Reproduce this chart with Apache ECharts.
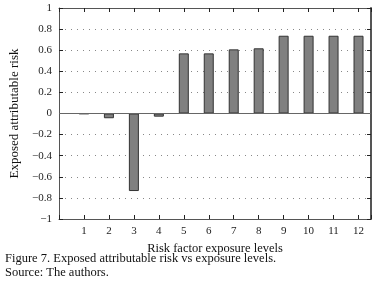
<!DOCTYPE html>
<html>
<head>
<meta charset="utf-8">
<script src="https://cdn.jsdelivr.net/npm/echarts@6/dist/echarts.min.js"></script>
<style>
  html, body { margin: 0; padding: 0; background: #fff; }
  #chart { width: 382px; height: 285px; }
</style>
</head>
<body>
<div id="chart"></div>
<script>
// exposure levels and exposed attributable risk
const levels = [1, 2, 3, 4, 5, 6, 7, 8, 9, 10, 11, 12]
const risk = [-0.004, -0.045, -0.735, -0.03, 0.57, 0.57, 0.608, 0.618, 0.737, 0.737, 0.737, 0.737]
const yTicks = [-1, -0.8, -0.6, -0.4, -0.2, 0, 0.2, 0.4, 0.6, 0.8, 1]

const font = 'Liberation Serif'
const frame = '#555'

const chart = echarts.init(document.getElementById('chart'))

const fmtY = v => {
  const r = Math.round(v * 10) / 10
  if (!yTicks.includes(r)) return ''
  return r < 0 ? '\u2212' + String(-r) : String(r)
}

chart.setOption({
  animation: false,
  backgroundColor: '#fff',
  textStyle: { fontFamily: font },
  grid: { left: 59, right: 11, top: 8, bottom: 66, show: false },
  xAxis: [
    {
      type: 'value', min: 0, max: 12.5, interval: 1,
      axisLine: { onZero: false, lineStyle: { color: frame, width: 1 } },
      axisTick: { inside: true, length: 4, lineStyle: { color: '#222' } },
      axisLabel: {
        color: '#222', fontSize: 11, fontFamily: font, margin: 7,
        formatter: v => levels.includes(v) ? String(v) : ''
      },
      splitLine: { show: false },
      name: 'Risk factor exposure levels',
      nameLocation: 'middle', nameGap: 22,
      nameTextStyle: { color: '#111', fontSize: 12.5, fontFamily: font }
    },
    {
      type: 'value', min: 0, max: 12.5, interval: 1, position: 'top',
      axisLine: { show: true, onZero: false, lineStyle: { color: frame, width: 1 } },
      axisTick: { inside: true, length: 4, lineStyle: { color: '#222' } },
      axisLabel: { show: false },
      splitLine: { show: false }
    }
  ],
  yAxis: [
    {
      type: 'value', min: -1, max: 1, interval: 0.2,
      axisLine: { show: true, onZero: false, lineStyle: { color: frame, width: 1 } },
      axisTick: { inside: true, length: 4, lineStyle: { color: '#222' } },
      axisLabel: { color: '#222', fontSize: 11, fontFamily: font, margin: 7, formatter: fmtY },
      splitLine: { show: true, lineStyle: { color: '#888', type: [1, 5], width: 1 } },
      name: 'Exposed attributable risk',
      nameLocation: 'middle', nameGap: 31, nameRotate: 90,
      nameTextStyle: { color: '#111', fontSize: 13, fontFamily: font }
    },
    {
      type: 'value', min: -1, max: 1, interval: 0.2, position: 'right',
      axisLine: { show: true, onZero: false, lineStyle: { color: frame, width: 2 } },
      axisTick: { inside: true, length: 4, lineStyle: { color: '#222' } },
      axisLabel: { show: false },
      splitLine: { show: false }
    }
  ],
  series: [
    {
      type: 'bar',
      barWidth: 10,
      data: levels.map((l, i) => [l, risk[i]]),
      itemStyle: { color: '#808080', borderColor: '#333', borderWidth: 1 },
      markLine: {
        silent: true, symbol: 'none', label: { show: false },
        lineStyle: { color: '#666', type: 'solid', width: 1 },
        data: [{ yAxis: 0 }]
      }
    }
  ],
  graphic: [
    {
      type: 'text', left: 5, top: 252,
      style: { text: 'Figure 7. Exposed attributable risk vs exposure levels.', font: '12.5px "Liberation Serif"', fill: '#111' }
    },
    {
      type: 'text', left: 5, top: 266,
      style: { text: 'Source: The authors.', font: '12.5px "Liberation Serif"', fill: '#111' }
    }
  ]
})
</script>
</body>
</html>
